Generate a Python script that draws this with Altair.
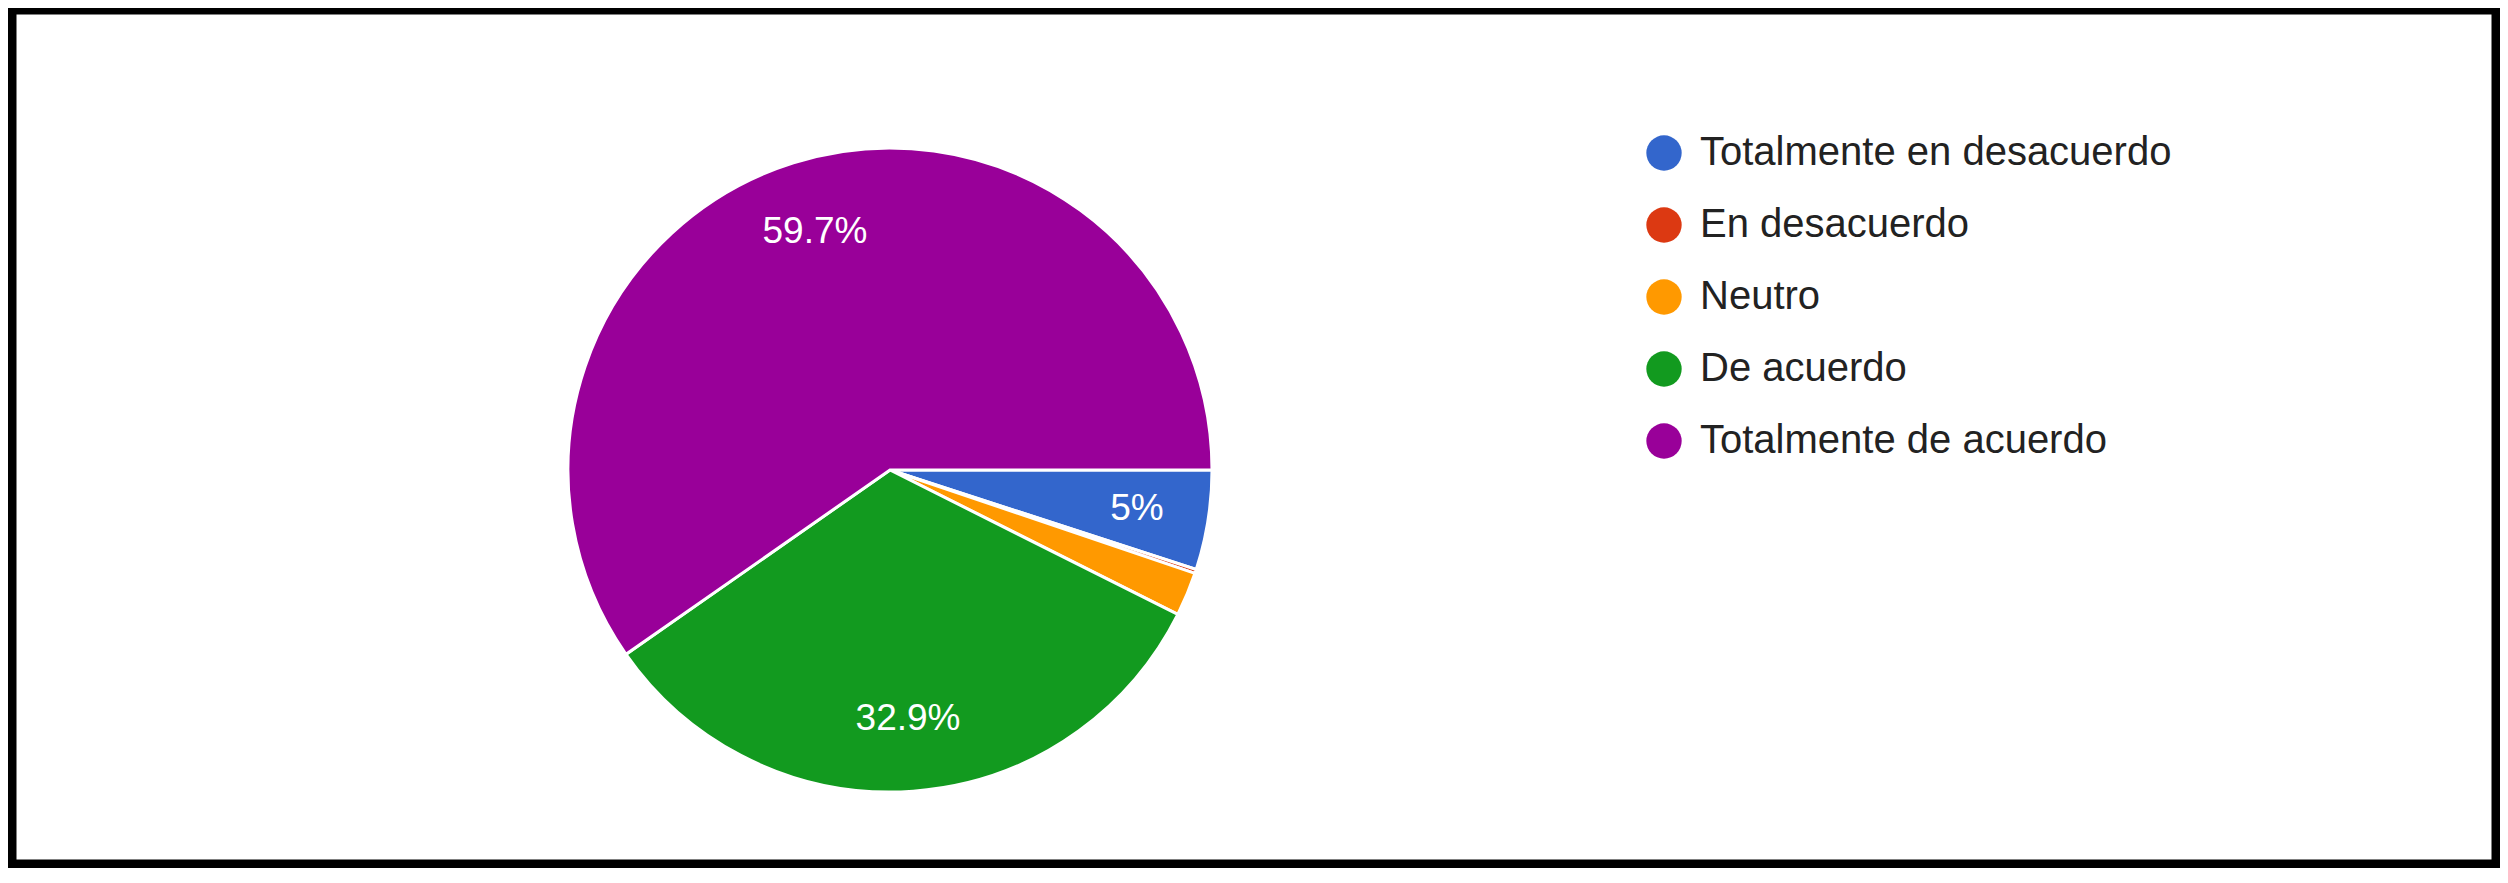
import altair as alt
import pandas as pd
import math

categories = ["Totalmente en desacuerdo", "En desacuerdo", "Neutro", "De acuerdo", "Totalmente de acuerdo"]
values = [5.0, 0.2, 2.2, 32.9, 59.7]
colors = ["#3366CC", "#DC3912", "#FF9900", "#129A1F", "#990099"]

df = pd.DataFrame({"cat": categories, "v": values, "idx": list(range(len(categories)))})

theta_scale = alt.Scale(range=[math.pi / 2, math.pi / 2 + 2 * math.pi])
color_scale = alt.Scale(domain=categories, range=colors)

CX, CY, R = 878, 460, 322

base = alt.Chart(df).encode(
    theta=alt.Theta("v:Q", stack=True, scale=theta_scale),
    order=alt.Order("idx:Q"),
)

arcs = base.mark_arc(outerRadius=R, stroke="white", strokeWidth=3).encode(
    color=alt.Color(
        "cat:N",
        scale=color_scale,
        sort=categories,
        legend=alt.Legend(
            title=None,
            orient="none",
            legendX=1632,
            legendY=123,
            symbolType="circle",
            symbolSize=1250,
            symbolStrokeWidth=0,
            labelFont="Liberation Sans",
            labelFontSize=40,
            labelColor="#222222",
            labelOffset=16,
            rowPadding=32,
            padding=0,
            labelLimit=0,
        ),
    ),
    x=alt.value(CX),
    y=alt.value(CY),
)

labels = base.transform_calculate(
    label="datum.v >= 5 ? format(datum.v, '.1~f') + '%' : ''"
).mark_text(
    radius=250,
    font="Liberation Sans",
    fontSize=37,
    color="white",
).encode(
    text="label:N",
    x=alt.value(CX),
    y=alt.value(CY),
)

chart = alt.layer(arcs, labels).properties(
    width=2492,
    height=860,
    padding={"left": 4, "top": 2, "right": 4, "bottom": 4},
    autosize=alt.AutoSizeParams(type="fit", contains="padding"),
    background="white",
).configure_view(
    stroke="black",
    strokeWidth=9,
)

chart.save("out.html", embed_options={"renderer": "svg", "actions": False})
